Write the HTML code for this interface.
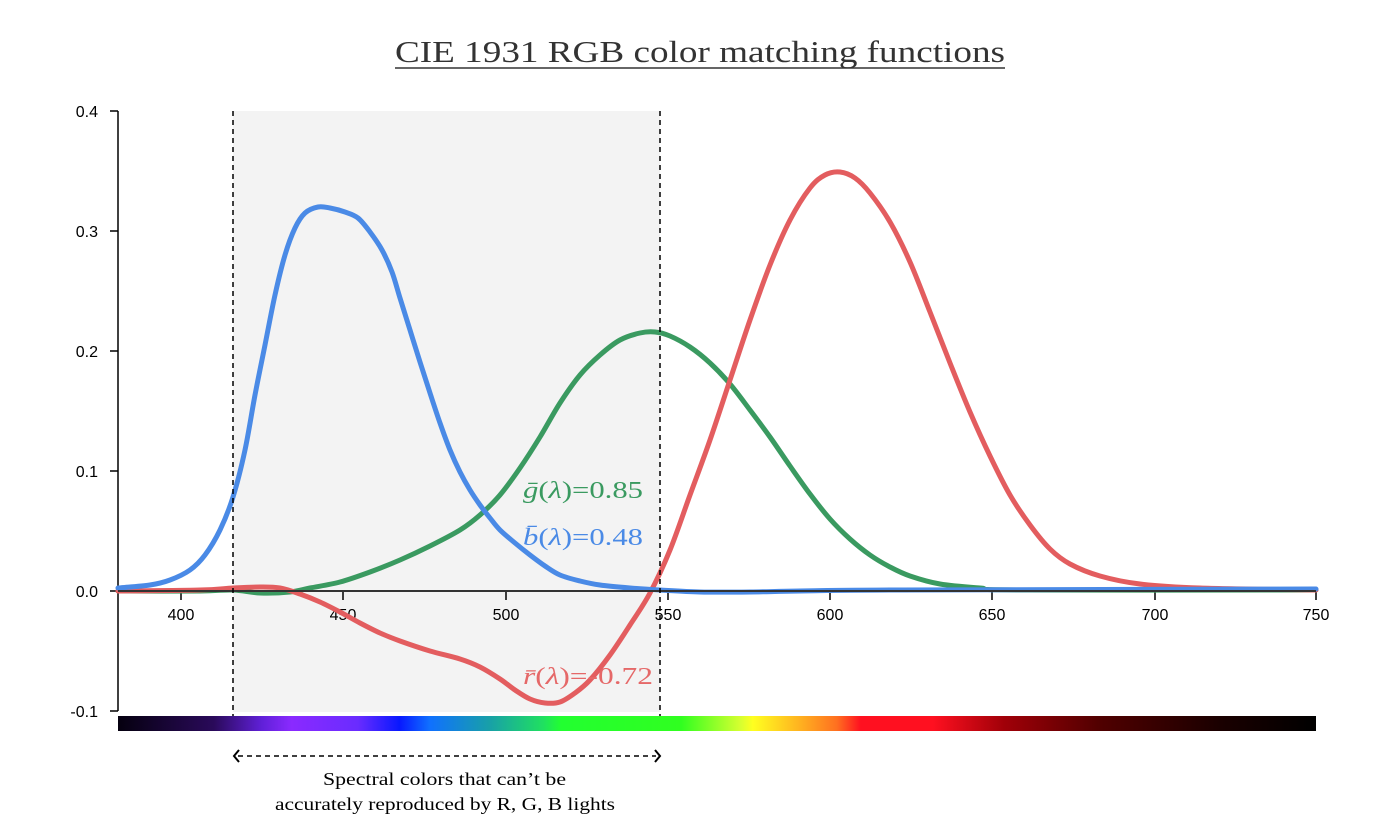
<!DOCTYPE html>
<html><head><meta charset="utf-8"><style>html,body{margin:0;background:#fff}svg{display:block}</style></head><body>
<svg id="s" width="1400" height="840" viewBox="0 0 1400 840" xmlns="http://www.w3.org/2000/svg">
<defs>
<linearGradient id="sp" x1="118" x2="1316" y1="0" y2="0" gradientUnits="userSpaceOnUse">
<stop offset="0" stop-color="#05000f"/>
<stop offset="0.08" stop-color="#2a0a5a"/>
<stop offset="0.12" stop-color="#6020d8"/>
<stop offset="0.145" stop-color="#8a2aff"/>
<stop offset="0.2" stop-color="#6a2cff"/>
<stop offset="0.235" stop-color="#0818ff"/>
<stop offset="0.26" stop-color="#1070ff"/>
<stop offset="0.31" stop-color="#18a0a8"/>
<stop offset="0.355" stop-color="#20e060"/>
<stop offset="0.37" stop-color="#22ff30"/>
<stop offset="0.47" stop-color="#30ff20"/>
<stop offset="0.52" stop-color="#d8ff30"/>
<stop offset="0.53" stop-color="#ffff20"/>
<stop offset="0.57" stop-color="#ffb020"/>
<stop offset="0.6" stop-color="#ff7020"/>
<stop offset="0.62" stop-color="#ff1020"/>
<stop offset="0.68" stop-color="#ff1020"/>
<stop offset="0.74" stop-color="#a00008"/>
<stop offset="0.82" stop-color="#500000"/>
<stop offset="0.92" stop-color="#1a0000"/>
<stop offset="1" stop-color="#000"/>
</linearGradient>
</defs>
<text x="395" y="62" font-family="Liberation Serif, serif" font-size="31" fill="#333" textLength="610" lengthAdjust="spacingAndGlyphs">CIE 1931 RGB color matching functions</text>
<line x1="395" y1="68" x2="1005" y2="68" stroke="#333" stroke-width="1.5"/>
<rect x="233" y="111" width="427" height="601" fill="#f3f3f3"/>
<rect x="118" y="716" width="1198" height="15" fill="url(#sp)"/>
<g stroke="#000" stroke-width="1.5">
<line x1="118" y1="111" x2="118" y2="711"/>
<line x1="110" y1="111" x2="118" y2="111"/><line x1="110" y1="231" x2="118" y2="231"/><line x1="110" y1="351" x2="118" y2="351"/><line x1="110" y1="471" x2="118" y2="471"/><line x1="110" y1="591" x2="118" y2="591"/><line x1="110" y1="711" x2="118" y2="711"/>
<line x1="181" y1="591" x2="181" y2="600"/><line x1="343" y1="591" x2="343" y2="600"/><line x1="506" y1="591" x2="506" y2="600"/><line x1="668" y1="591" x2="668" y2="600"/><line x1="830" y1="591" x2="830" y2="600"/><line x1="992" y1="591" x2="992" y2="600"/><line x1="1155" y1="591" x2="1155" y2="600"/><line x1="1316" y1="591" x2="1316" y2="600"/>
</g>
<g font-family="Liberation Sans, sans-serif" font-size="16" fill="#000">
<g text-anchor="end"><text x="98" y="117">0.4</text><text x="98" y="237">0.3</text><text x="98" y="357">0.2</text><text x="98" y="477">0.1</text><text x="98" y="597">0.0</text><text x="98" y="717">-0.1</text></g>
<g text-anchor="middle"><text x="181" y="620">400</text><text x="343" y="620">450</text><text x="506" y="620">500</text><text x="668" y="620">550</text><text x="830" y="620">600</text><text x="992" y="620">650</text><text x="1155" y="620">700</text><text x="1316" y="620">750</text></g>
</g>
<g fill="none" stroke-width="5" stroke-linejoin="round" stroke-linecap="round">
<polyline class="c" stroke="#3a9a60" points="118,591 200,591 233,590 260,593 290,592 310,588 340,582 370,572 400,560 430,546 460,530 480,515 500,495 520,468 540,437 560,403 580,375 600,355 620,340 640,333 655,332 670,336 690,347 710,363 730,384 750,410 770,437 790,466 810,494 830,519 850,539 870,555 890,567 910,576 940,584 980,588 1020,590 1316,590"/>
<polyline class="c" stroke="#e35d5f" points="118,591 200,590 233,588 260,587 280,588 300,594 320,602 340,612 360,623 380,633 400,641 430,651 460,659 480,667 500,679 515,690 530,699 545,703 560,702 575,693 590,680 610,655 630,625 650,593 670,550 690,495 710,440 730,380 750,320 770,265 790,220 810,188 825,175 840,172 855,178 870,193 890,222 910,262 930,312 950,363 970,412 990,456 1010,495 1030,525 1050,549 1070,564 1100,576 1140,584 1200,588 1316,590"/>
<polyline class="c" stroke="#4a8ae6" points="118,588 150,585 170,580 190,570 205,555 220,530 233,497 245,450 255,395 265,345 275,295 285,255 295,228 305,213 318,207 330,208 345,212 358,218 370,232 382,250 392,272 400,298 410,330 420,362 430,393 440,423 450,450 460,472 470,490 480,505 490,518 500,530 515,543 530,555 545,566 560,575 580,581 600,585 630,588 660,590 700,592 750,592 800,591 900,590 1316,589"/>
</g>
<line x1="118" y1="591" x2="1316" y2="591" stroke="#333" stroke-width="2"/>
<g stroke="#000" stroke-width="1.5" stroke-dasharray="5,4">
<line x1="233" y1="111" x2="233" y2="716"/>
<line x1="660" y1="111" x2="660" y2="716"/>
<line x1="238" y1="756" x2="656" y2="756"/>
</g>
<polyline points="239,750 234,756 239,762" fill="none" stroke="#000" stroke-width="2"/>
<polyline points="655,750 660,756 655,762" fill="none" stroke="#000" stroke-width="2"/>
<g font-family="Liberation Serif, serif" font-size="24">
<text x="523" y="498" fill="#3a9a60" textLength="120" lengthAdjust="spacingAndGlyphs"><tspan font-style="italic">ḡ</tspan>(<tspan font-style="italic">λ</tspan>)=0.85</text>
<text x="523" y="545" fill="#4a8ae6" textLength="120" lengthAdjust="spacingAndGlyphs"><tspan font-style="italic">b̄</tspan>(<tspan font-style="italic">λ</tspan>)=0.48</text>
<text x="523" y="684" fill="#e56868" textLength="130" lengthAdjust="spacingAndGlyphs"><tspan font-style="italic">r̄</tspan>(<tspan font-style="italic">λ</tspan>)=-0.72</text>
</g>
<g font-family="Liberation Serif, serif" font-size="18" fill="#000">
<text x="323" y="785" textLength="243" lengthAdjust="spacingAndGlyphs">Spectral colors that can’t be</text>
<text x="275" y="810" textLength="340" lengthAdjust="spacingAndGlyphs">accurately reproduced by R, G, B lights</text>
</g>
</svg>
<script>
document.querySelectorAll('polyline.c').forEach(function(pl){
 var p=pl.getAttribute('points').trim().split(/\s+/).map(function(s){return s.split(',').map(Number);});
 var d='M'+p[0][0]+','+p[0][1];
 for(var i=0;i<p.length-1;i++){
  var p0=p[i-1]||p[i],p1=p[i],p2=p[i+1],p3=p[i+2]||p2;
  var c1x=p1[0]+(p2[0]-p0[0])/6,c1y=p1[1]+(p2[1]-p0[1])/6;
  var c2x=p2[0]-(p3[0]-p1[0])/6,c2y=p2[1]-(p3[1]-p1[1])/6;
  d+=' C'+c1x+','+c1y+' '+c2x+','+c2y+' '+p2[0]+','+p2[1];
 }
 var path=document.createElementNS('http://www.w3.org/2000/svg','path');
 path.setAttribute('d',d);path.setAttribute('stroke',pl.getAttribute('stroke'));
 pl.parentNode.replaceChild(path,pl);
});
</script>
</body></html>
